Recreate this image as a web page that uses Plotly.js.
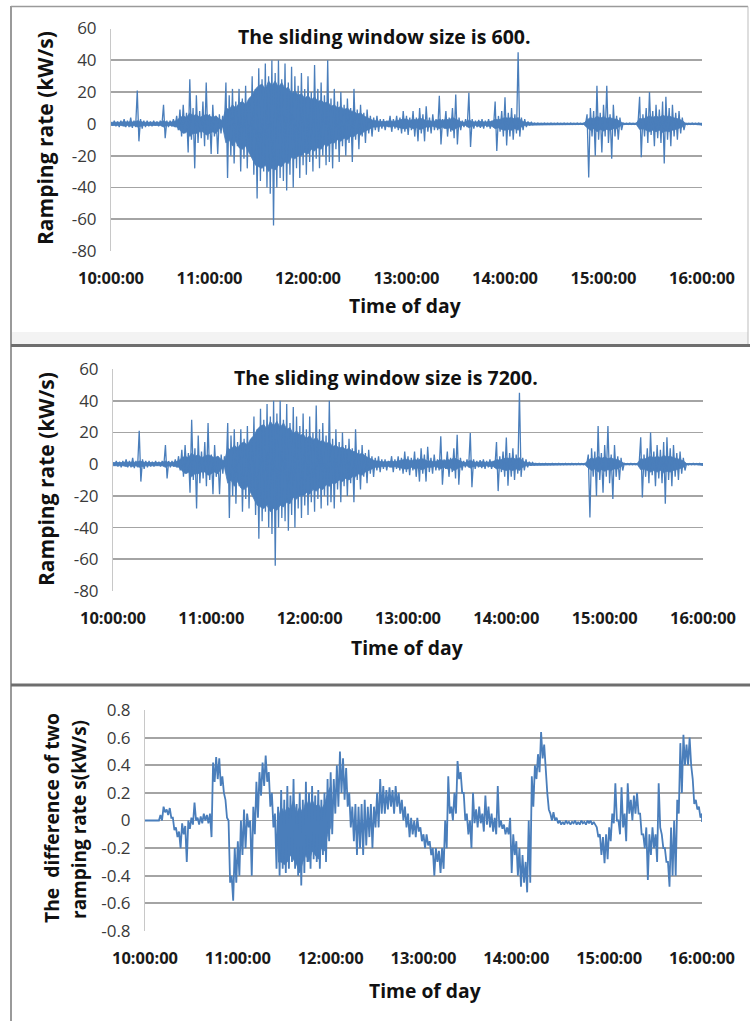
<!DOCTYPE html>
<html>
<head>
<meta charset="utf-8">
<script src="https://cdn.plot.ly/plotly-3.0.1.min.js"></script>
<style>
  html, body { margin: 0; padding: 0; background: #ffffff; }
  #chart { width: 750px; height: 1021px; }
</style>
</head>
<body>
<div id="chart"></div>
<script>
// Ramping rate of the PV output, 10:00 - 16:00, in 2-minute steps.
// Each step keeps the upper and lower swing of the rate inside that step,
// plus the dense core band the rate fills most of the time.
const timeTickVals = [10, 11, 12, 13, 14, 15, 16];
const timeTickText = ['10:00:00', '11:00:00', '12:00:00', '13:00:00', '14:00:00', '15:00:00', '16:00:00'];

const rateTickVals = [-80, -60, -40, -20, 0, 20, 40, 60];
const rateTickText = ['-80', '-60', '-40', '-20', '0', '20', '40', '60'];
const diffTickVals = [-0.8, -0.6, -0.4, -0.2, 0, 0.2, 0.4, 0.6, 0.8];
const diffTickText = ['-0.8', '-0.6', '-0.4', '-0.2', '0', '0.2', '0.4', '0.6', '0.8'];

// Ramping rate (kW/s), sliding window 600: swing extremes per step
const rate600Hi = [
  1, 2, 1.5, 2, 3, 2, 4, 2, 21, 3,
  2, 2, 1.5, 2, 1.5, 2, 12, 2, 2, 3,
  5, 9, 12, 7, 28, 10, 18, 8, 14, 26,
  6, 12, 5, 6, 5, 26, 18, 22, 14, 22,
  16, 24, 15, 30, 22, 35, 28, 38, 30, 40,
  32, 40, 28, 38, 26, 36, 30, 24, 32, 22,
  30, 20, 37, 22, 26, 18, 40, 16, 22, 14,
  20, 12, 16, 10, 22, 9, 12, 7, 9, 5,
  4, 5, 3, 3, 2, 5, 3, 5, 4, 8,
  5, 4, 8, 4, 10, 6, 11, 4, 6, 3,
  17.6, 3, 8, 4, 10, 18.5, 4, 2, 3, 19.6,
  3, 2, 2.5, 3, 2, 3, 2, 14, 5, 8,
  16.8, 7, 10, 6, 45, 4, 3, 1.5, 1, 0.5,
  0.5, 0.4, 0.5, 0.4, 0.5, 0.4, 0.5, 0.4, 0.5, 0.4,
  0.5, 0.4, 0.5, 0.4, 0.5, 6, 10, 8, 24, 7,
  12, 24, 6, 12, 5, 4, 0.5, 0.4, 0.5, 0.4,
  0.5, 17, 6, 10, 20, 8, 12, 9, 14, 17,
  10, 12, 7, 8, 4, 0.5, 0.4, 0.5, 0.4, 0.5,
  0
];
const rate600Lo = [
  -1, -1.5, -2, -1, -2, -2, -2.5, -2, -11, -3,
  -2, -1.5, -1.5, -1, -1.5, -1, -9, -2, -1.5, -2,
  -4, -8, -6, -18, -10, -28, -12, -9, -14, -10,
  -19, -8, -19, -6, -5, -34, -20, -25, -14, -30,
  -22, -28, -18, -32, -47, -36, -30, -40, -44, -64,
  -40, -34, -36, -42, -32, -40, -28, -34, -26, -32,
  -24, -30, -22, -28, -20, -26, -24, -28, -16, -24,
  -14, -20, -12, -24, -10, -16, -8, -12, -6, -8,
  -4, -5, -3, -4, -2, -5, -3, -4, -6, -5,
  -7, -4, -8, -11, -6, -11, -5, -6, -4, -4,
  -13, -3, -8, -5, -9, -13, -4, -2, -2, -14.6,
  -3, -2, -2.5, -3, -2, -3, -2, -17, -5, -8,
  -13.6, -8, -10, -6, -8, -4, -2, -1, -0.5, -0.3,
  -0.3, -0.4, -0.3, -0.4, -0.3, -0.4, -0.3, -0.4, -0.3, -0.4,
  -0.3, -0.4, -0.3, -0.4, -0.5, -33.7, -8, -20, -10, -18,
  -8, -12, -22, -8, -10, -4, -0.3, -0.4, -0.3, -0.4,
  -0.3, -21, -8, -12, -7, -14, -9, -12, -25, -10,
  -14, -8, -10, -6, -4, -0.5, -0.4, -0.3, -0.4, -0.3,
  -1
];
// Sliding window 600: dense core band per step
const rate600CoreHi = [
  1, 1, 1, 1, 1.5, 1, 1.5, 1, 2, 1.5,
  1, 1, 1, 1, 1, 1, 2, 1, 1, 1.5,
  2, 4, 5, 4, 7, 5, 6, 4, 5, 6,
  5, 4, 5, 3, 2, 10, 9, 12, 10, 13,
  14, 12, 16, 18, 22, 24, 25, 22, 27, 24,
  27, 23, 26, 22, 23, 19, 21, 18, 19, 16,
  18, 15, 17, 14, 15, 13, 14, 11, 12, 10,
  11, 9, 10, 8, 8, 6, 7, 5, 4, 3,
  2, 2, 1.5, 1.5, 1.5, 2, 1.5, 2, 2.5, 3,
  3, 2, 3, 2.5, 3.5, 3, 2, 2, 1.5, 2,
  3, 2, 3, 2.5, 4, 3, 2, 1, 1, 2.5,
  1.5, 1, 1.5, 1.5, 1, 1.5, 1.5, 3, 2.5, 3.5,
  4, 3.5, 4, 3, 4, 2, 1, 0.8, 0.5, 0.4,
  0.4, 0.4, 0.4, 0.4, 0.4, 0.4, 0.4, 0.4, 0.4, 0.4,
  0.4, 0.4, 0.4, 0.4, 0.4, 2.5, 4, 3, 5, 3.5,
  4.5, 3.5, 4, 3, 3, 1.5, 0.4, 0.4, 0.4, 0.4,
  0.4, 3.5, 3, 4, 5, 4, 5, 4, 5.5, 4.5,
  5, 4, 3.5, 3, 2, 0.4, 0.4, 0.4, 0.4, 0.4,
  0.4
];
const rate600CoreLo = [
  -1, -1, -1, -1, -1.5, -1, -1.5, -1, -2, -1.5,
  -1, -1, -1, -1, -1, -1, -2, -1, -1, -1.5,
  -2, -4, -6, -5, -8, -6, -6, -5, -5, -7,
  -6, -5, -6, -3, -2, -12, -10, -14, -11, -15,
  -16, -14, -18, -22, -26, -27, -28, -26, -30, -28,
  -29, -26, -27, -24, -25, -21, -22, -20, -20, -18,
  -19, -16, -17, -15, -16, -13, -14, -12, -12, -10,
  -11, -9, -10, -8, -8, -6, -7, -5, -4, -3,
  -2, -2, -1.5, -1.5, -1.5, -2, -1.5, -2, -2.5, -3,
  -3, -2, -3, -2.5, -3.5, -3, -2, -2, -1.5, -2,
  -3, -2, -3, -2.5, -4, -3, -2, -1, -1, -2.5,
  -1.5, -1, -1.5, -1.5, -1, -1.5, -1.5, -3, -2.5, -3.5,
  -4, -3.5, -4, -3, -4, -2, -1, -0.8, -0.5, -0.4,
  -0.4, -0.4, -0.4, -0.4, -0.4, -0.4, -0.4, -0.4, -0.4, -0.4,
  -0.4, -0.4, -0.4, -0.4, -0.4, -2.5, -4, -3, -5, -3.5,
  -4.5, -3.5, -4, -3, -3, -1.5, -0.4, -0.4, -0.4, -0.4,
  -0.4, -3.5, -3, -4, -5, -4, -5, -4, -5.5, -4.5,
  -5, -4, -3.5, -3, -2, -0.4, -0.4, -0.4, -0.4, -0.4,
  -0.8
];

// Sliding window 7200: the same readings at this scale
const rate7200Hi = rate600Hi.slice();
const rate7200Lo = rate600Lo.slice();
const rate7200CoreHi = rate600CoreHi.slice();
const rate7200CoreLo = rate600CoreLo.slice();

// Difference of the two ramping rates (kW/s): swing extremes per step
const diffHi = [
  0, 0, 0, 0, 0, 0.04, 0.10, 0.08, 0.09, 0.02,
  -0.05, -0.08, -0.02, -0.04, 0.0, 0.02, 0.13, 0.02, 0.03, 0.05,
  0.04, 0.05, 0.42, 0.46, 0.45, 0.32, 0.15, 0.0, -0.40, -0.20,
  -0.15, 0.0, 0.08, 0.05, 0.0, 0.10, 0.28, 0.35, 0.42, 0.47,
  0.35, 0.20, 0.05, 0.10, 0.22, 0.15, 0.25, 0.18, 0.30, 0.12,
  0.20, 0.15, 0.28, 0.20, 0.25, 0.18, 0.22, 0.15, 0.20, 0.30,
  0.35, 0.30, 0.40, 0.50, 0.45, 0.38, 0.20, 0.10, 0.12, 0.10,
  0.12, 0.15, 0.10, 0.12, 0.10, 0.20, 0.30, 0.25, 0.22, 0.24,
  0.22, 0.25, 0.20, 0.15, 0.10, 0.05, 0.02, 0.0, 0.02, -0.05,
  -0.10, -0.10, -0.15, -0.20, -0.20, -0.22, -0.20, 0.0, 0.32, 0.10,
  0.20, 0.43, 0.35, 0.20, 0.05, 0.0, 0.20, 0.08, 0.10, 0.05,
  0.18, 0.10, 0.05, 0.02, 0.25, 0.0, -0.03, -0.05, 0.02, -0.10,
  -0.15, -0.20, -0.25, -0.30, 0.0, 0.32, 0.40, 0.48, 0.64, 0.55,
  0.20, 0.05, 0.06, 0.02, 0.0, -0.01, 0.0, -0.01, -0.01, 0.0,
  -0.01, 0.0, -0.01, 0.0, 0.0, -0.01, -0.05, -0.10, -0.12, -0.10,
  -0.05, 0.05, 0.27, 0.0, 0.24, 0.05, 0.27, 0.15, 0.18, 0.20,
  0.05, -0.10, -0.05, -0.10, -0.05, -0.10, 0.27, -0.10, -0.20, -0.30,
  -0.05, 0.0, 0.15, 0.56, 0.62, 0.55, 0.60, 0.30, 0.15, 0.10,
  0.05
];
const diffLo = [
  0, 0, 0, 0, 0, 0, 0.06, 0.04, 0.02, -0.07,
  -0.12, -0.20, -0.10, -0.30, -0.06, -0.03, 0.0, -0.03, -0.02, 0.0,
  -0.02, -0.12, 0.28, 0.30, 0.25, 0.20, 0.02, -0.45, -0.58, -0.45,
  -0.40, -0.25, -0.20, -0.05, -0.40, -0.10, 0.02, 0.18, 0.25, 0.28,
  0.10, -0.05, -0.35, -0.40, -0.35, -0.38, -0.35, -0.30, -0.35, -0.40,
  -0.47, -0.38, -0.30, -0.35, -0.28, -0.30, -0.35, -0.25, -0.30, -0.15,
  -0.10, 0.05, 0.10, 0.20, 0.15, 0.10, -0.05, -0.15, -0.25, -0.20,
  -0.25, -0.18, -0.12, -0.20, -0.05, -0.05, 0.05, 0.05, 0.08, 0.10,
  0.05, 0.10, 0.05, 0.0, -0.05, -0.12, -0.10, -0.12, -0.08, -0.15,
  -0.20, -0.18, -0.25, -0.40, -0.30, -0.38, -0.35, -0.20, 0.05, 0.0,
  0.05, 0.30, 0.20, 0.0, -0.10, -0.20, -0.02, -0.05, -0.02, -0.08,
  -0.03, -0.05, -0.08, -0.10, -0.05, -0.06, -0.10, -0.10, -0.38, -0.25,
  -0.40, -0.48, -0.45, -0.52, -0.45, 0.10, 0.30, 0.35, 0.45, 0.35,
  0.08, 0.0, 0.0, -0.02, -0.03, -0.03, -0.02, -0.03, -0.02, -0.03,
  -0.03, -0.02, -0.03, -0.02, -0.03, -0.03, -0.12, -0.25, -0.31, -0.28,
  -0.15, -0.02, 0.0, -0.10, -0.05, -0.15, 0.05, 0.0, 0.05, 0.05,
  -0.10, -0.20, -0.43, -0.25, -0.20, -0.30, -0.05, -0.20, -0.30, -0.48,
  -0.40, -0.40, 0.05, 0.20, 0.40, 0.40, 0.40, 0.12, 0.08, 0.02,
  -0.01
];
// Difference: dense core band over the busy stretch 11:26 - 12:00 (steps 43..60)
const diffCoreStart = 43;
const diffCoreHi = [0.0, 0.10, 0.05, 0.10, 0.08, 0.15, 0.05, 0.10, 0.05, 0.15, 0.10, 0.15, 0.10, 0.12, 0.08, 0.12, 0.20, 0.25];
const diffCoreLo = [-0.30, -0.30, -0.32, -0.30, -0.25, -0.28, -0.32, -0.38, -0.30, -0.25, -0.30, -0.22, -0.25, -0.28, -0.20, -0.22, -0.10, -0.05];

const STEP_HOURS = 2 / 60;
const stepTime = i => 10 + i * STEP_HOURS;

// Interleave the upper and lower swing of each step into one trace.
function swingTrace(hi, lo, xa, ya, width) {
  const x = [], y = [];
  for (let i = 0; i < hi.length; i++) {
    const h = stepTime(i);
    x.push(h); y.push(hi[i]);
    x.push(Math.min(16, h + STEP_HOURS / 2)); y.push(lo[i]);
  }
  return {
    type: 'scatter', mode: 'lines', x: x, y: y, xaxis: xa, yaxis: ya,
    line: { color: '#4a7ebb', width: width }, hoverinfo: 'skip'
  };
}

// Filled band between the core upper and lower values.
function coreTrace(hi, lo, start, xa, ya) {
  const x = [], y = [];
  for (let i = 0; i < hi.length; i++) { x.push(stepTime(start + i)); y.push(hi[i]); }
  for (let i = lo.length - 1; i >= 0; i--) { x.push(stepTime(start + i)); y.push(lo[i]); }
  return {
    type: 'scatter', mode: 'lines', x: x, y: y, xaxis: xa, yaxis: ya,
    fill: 'toself', fillcolor: '#4a7ebb',
    line: { color: '#4a7ebb', width: 0.8 }, hoverinfo: 'skip'
  };
}

const W = 750, H = 1021;
const fx = p => p / W;
const fy = p => 1 - p / H;

const FONT = "'Open Sans', 'DejaVu Sans', sans-serif";
const gridColor = '#a4a4a4';

function xAxis(left, right, anchor) {
  return {
    domain: [fx(left), fx(right)], anchor: anchor, range: [10, 16],
    tickvals: timeTickVals, ticktext: timeTickText,
    showgrid: false, zeroline: false, showline: false,
    ticks: 'outside', ticklen: 12, tickcolor: 'rgba(0,0,0,0)',
    tickfont: { family: FONT, size: 16.5, color: '#1a1a1a', weight: 'bold' },
    fixedrange: true
  };
}
function yAxis(top, bottom, anchor, range, vals, text) {
  return {
    domain: [fy(bottom), fy(top)], anchor: anchor, range: range,
    tickvals: vals, ticktext: text,
    showgrid: true, gridcolor: gridColor, gridwidth: 1.8,
    zeroline: false, showline: true, linecolor: '#c8c8c8', linewidth: 1,
    ticks: 'outside', ticklen: 10, tickcolor: 'rgba(0,0,0,0)',
    tickfont: { family: FONT, size: 17, color: '#3a3a3a' },
    fixedrange: true
  };
}

const traces = [
  coreTrace(rate600CoreHi, rate600CoreLo, 0, 'x', 'y'),
  swingTrace(rate600Hi, rate600Lo, 'x', 'y', 1.3),
  coreTrace(rate7200CoreHi, rate7200CoreLo, 0, 'x2', 'y2'),
  swingTrace(rate7200Hi, rate7200Lo, 'x2', 'y2', 1.3),
  coreTrace(diffCoreHi, diffCoreLo, diffCoreStart, 'x3', 'y3'),
  swingTrace(diffHi, diffLo, 'x3', 'y3', 1.8)
];

function label(text, x, y, size, angle) {
  return {
    text: text, xref: 'paper', yref: 'paper', x: fx(x), y: fy(y),
    xanchor: 'center', yanchor: 'middle', showarrow: false,
    textangle: angle || 0,
    font: { family: FONT, size: size, color: '#111111', weight: 'bold' }
  };
}

const annotations = [
  label('The sliding window size is 600.', 384, 36, 19.5),
  label('The sliding window size is 7200.', 386, 377, 19.5),
  label('Ramping rate (kW/s)', 45, 138, 21, -90),
  label('Ramping rate (kW/s)', 46, 479, 21, -90),
  label('The\u00a0 difference of two', 51, 818, 19.3, -90),
  label('ramping rate s(kW/s)', 79, 820, 19, -90),
  label('Time of day', 405, 306, 19.3),
  label('Time of day', 407, 647, 19.3),
  label('Time of day', 425, 990, 19.3)
];

function pline(x0, y0, x1, y1, color, width) {
  return {
    type: 'line', xref: 'paper', yref: 'paper',
    x0: fx(x0), y0: fy(y0), x1: fx(x1), y1: fy(y1),
    line: { color: color, width: width }, layer: 'above'
  };
}
function prect(x0, y0, x1, y1, fill) {
  return {
    type: 'rect', xref: 'paper', yref: 'paper',
    x0: fx(x0), y0: fy(y0), x1: fx(x1), y1: fy(y1),
    fillcolor: fill, line: { width: 0 }, layer: 'below'
  };
}

const shapes = [
  prect(12, 332, 748, 344, '#f3f3f3'),
  pline(11, 6.5, 748, 6.5, '#9a9a9a', 1.5),
  pline(748, 6.5, 748, 345, '#bdbdbd', 1),
  pline(11, 6, 11, 1021, '#9a9a9a', 2),
  pline(11, 345.5, 750, 345.5, '#6e6e6e', 3),
  pline(11, 685, 750, 685, '#6e6e6e', 3)
];

const layout = {
  width: W, height: H,
  margin: { l: 0, r: 0, t: 0, b: 0, pad: 0 },
  paper_bgcolor: '#ffffff', plot_bgcolor: '#ffffff',
  showlegend: false,
  xaxis: xAxis(111, 702, 'y'),
  yaxis: yAxis(28.5, 251, 'x', [-80, 60], rateTickVals, rateTickText),
  xaxis2: xAxis(113, 703, 'y2'),
  yaxis2: yAxis(369, 591, 'x2', [-80, 60], rateTickVals, rateTickText),
  xaxis3: xAxis(145, 702, 'y3'),
  yaxis3: yAxis(710, 931, 'x3', [-0.8, 0.8], diffTickVals, diffTickText),
  annotations: annotations,
  shapes: shapes
};

Plotly.newPlot('chart', traces, layout, { staticPlot: true, displayModeBar: false });
</script>
</body>
</html>
